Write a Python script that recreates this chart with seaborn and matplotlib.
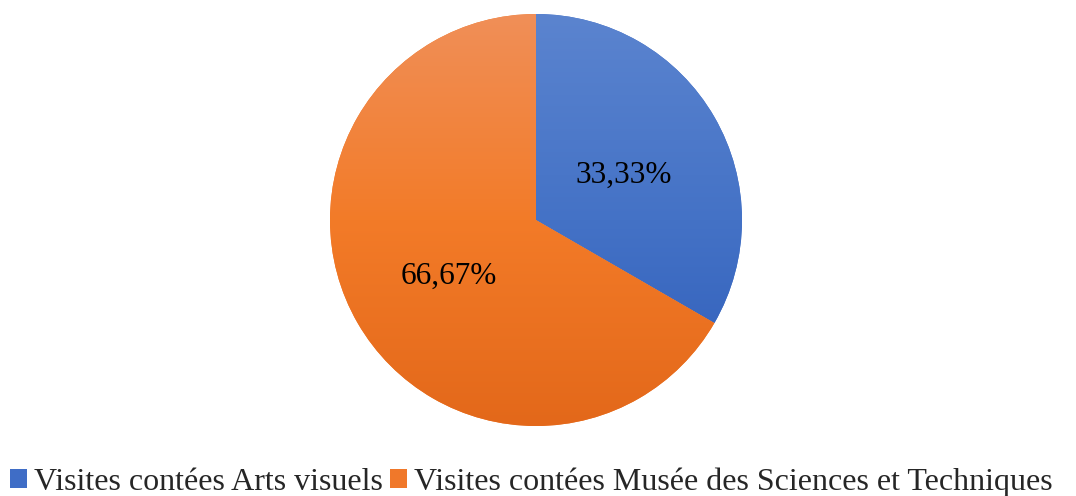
import matplotlib
matplotlib.use("Agg")
import matplotlib.pyplot as plt
from matplotlib.colors import LinearSegmentedColormap
from matplotlib.patches import Patch
import numpy as np
import seaborn as sns

# data
categories = ["Visites contées Arts visuels",
              "Visites contées Musée des Sciences et Techniques"]
visits = [1, 2]

# gradient colours (top, middle, bottom) for each slice
gradient_colors = [["#5b84cf", "#4472c6", "#2d5cb9"],
                   ["#f08f58", "#f37b28", "#e3681a"]]
legend_colors = ["#3f6dc6", "#f0782a"]

sns.set_theme(style="white")
plt.rcParams["font.family"] = ["Liberation Serif", "DejaVu Serif"]

W, H = 1076, 496
fig = plt.figure(figsize=(W / 100, H / 100), dpi=100)
# pie centre at (536, 220) px, radius 206 px
ax = fig.add_axes([330 / W, (H - 426) / H, 412 / W, 412 / H])
ax.axis("off")


def fmt_pct(p):
    return f"{p:.2f}%".replace(".", ",")


wedges, texts, autotexts = ax.pie(
    visits, startangle=90, counterclock=False, radius=1,
    colors=legend_colors, autopct=fmt_pct, pctdistance=0.49,
    textprops=dict(fontsize=22.5, color="black"),
    wedgeprops=dict(linewidth=0),
)
ax.set_xlim(-1, 1)
ax.set_ylim(-1, 1)

# vertical gradient fill clipped to each slice
grad = np.linspace(0, 1, 256).reshape(-1, 1)
for w, cols in zip(wedges, gradient_colors):
    cmap = LinearSegmentedColormap.from_list("g", cols)
    im = ax.imshow(grad, cmap=cmap, extent=[-1, 1, -1, 1], origin="upper",
                   aspect="auto", zorder=w.get_zorder() + 0.1)
    im.set_clip_path(w)
for t in autotexts:
    x, y = t.get_position()
    t.set_position((x, y - 0.03))
    t.set_zorder(5)

handles = [Patch(facecolor=c, edgecolor="none") for c in legend_colors]
fig.legend(handles, categories, loc="lower center", bbox_to_anchor=(0.494, -0.04),
           ncol=2, frameon=False, fontsize=23.0, handlelength=0.54,
           handleheight=0.54, handletextpad=0.22, columnspacing=0.22,
           borderaxespad=0.2)

fig.savefig("out.png", dpi=100)
